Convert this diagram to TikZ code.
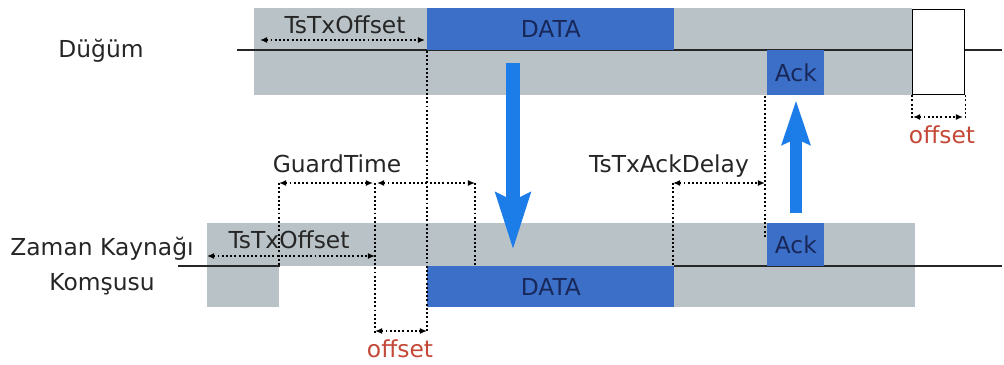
\documentclass[tikz,border=0pt]{standalone}
\usepackage{fontspec}
\setmainfont{DejaVu Sans}
\usetikzlibrary{arrows.meta,positioning}

\definecolor{lanegray}{RGB}{185,195,199}
\definecolor{slotblue}{RGB}{60,112,200}
\definecolor{flowblue}{RGB}{28,124,232}
\definecolor{slottext}{RGB}{25,40,90}
\definecolor{offred}{RGB}{196,72,56}
\newcommand{\pxl}{0.02cm}

\tikzset{
  lane/.style 2 args={fill=lanegray, inner sep=0pt, anchor=north west,
    minimum width=#1*\pxl, minimum height=#2*\pxl},
  slot/.style 2 args={lane={#1}{#2}, fill=slotblue, text=slottext},
  lbl/.style={anchor=base, inner sep=0pt, text=black!85},
  timeline/.style={line width=0.7pt, black!85},
  guide/.style={line width=0.8pt, dash pattern=on 1.1pt off 1.3pt},
  dim/.style={guide, {Latex[length=4pt,width=3.4pt]}-{Latex[length=4pt,width=3.4pt]}},
  flow/.style={draw=flowblue, line width=#1}
}

\begin{document}
\begin{tikzpicture}[x=\pxl, y=-\pxl, font=\fontsize{13.3}{15}\selectfont]
\useasboundingbox (0,0) rectangle (1004,365);

% node slotframe (upper lane)
\node[lane={658}{87}] (topbar) at (254,8) {};
\draw[timeline] (237,50) -- (1002,50);
\node[slot={247}{42}] (topdata) at (427,8) {DATA};
\node[slot={57}{45}] (topack) at (767,50) {Ack};
\node[lane={52}{85}, fill=white, draw=black, line width=0.7pt] (offbox) at (912,9) {};

% time source neighbour (lower lane)
\node[lane={708}{43}] (botbar) at (207,223) {};
\node[lane={72}{41}] (botleft) at (207,266) {};
\node[lane={241}{41}] (botright) at (674,266) {};
\draw[timeline] (178,266) -- (botleft.north east);
\draw[timeline] (botright.north west) -- (1002,266);
\node[slot={247}{41}] (botdata) at (427,266) {DATA};
\node[slot={57}{43}] (botack) at (767,223) {Ack};

% lane names
\node[lbl] (dugum) at (101,57) {Düğüm};
\node[lbl] (zaman) at (102,255) {Zaman Kaynağı};
\node[lbl] (komsu) at (102,290) {Komşusu};

% timing labels
\node[lbl] (txoffa) at (345,33) {TsTxOffset};
\node[lbl] (txoffb) at (289,248) {TsTxOffset};
\node[lbl] (guard) at (337,172) {GuardTime};
\node[lbl] (ackdelay) at (669,172) {TsTxAckDelay};
\node[lbl, text=offred] (offa) at (942,143) {offset};
\node[lbl, text=offred] (offb) at (400,357) {offset};

% guide lines
\coordinate (ga) at (279,183);
\coordinate (gb) at (375,183);
\coordinate (gc) at (475,183);
\coordinate (gd) at (673,183);
\draw[guide] (topdata.south west) -- (427,333);
\draw[guide] (ga) -- (ga |- botleft.north east);
\draw[guide] (gb) -- (375,333);
\draw[guide] (gc) -- (475,266);
\draw[guide] (gd) -- (gd |- botright.north west);
\draw[guide] (topack.south west) ++(-2,0) -- (765,237);
\draw[guide] (offbox.south west) -- ++(0,24);
\draw[guide] (offbox.south east) -- ++(0,24);

% dimension arrows
\draw[dim] (260,40) -- (425,40);
\draw[dim] (botbar.north west |- 0,256) -- (375,256);
\draw[dim] (ga) -- (373,183);
\draw[dim] (377,183) -- (gc);
\draw[dim] (375,331) -- (427,331);
\draw[dim] (gd) -- (765,183);
\draw[dim] (913,117) -- (963,117);

% DATA goes down, Ack comes back up
\coordinate (dnsrc) at (513,63);
\coordinate (dndst) at (513,250);
\coordinate (upsrc) at (796,213);
\coordinate (updst) at (796,100);
\draw[flow=8.5pt, -{Stealth[length=32pt,width=19pt,inset=4pt]}] (dnsrc) -- (dndst);
\draw[flow=6.8pt, -{Stealth[length=25pt,width=15.5pt,inset=3pt]}] (upsrc) -- (updst);
\end{tikzpicture}
\end{document}
